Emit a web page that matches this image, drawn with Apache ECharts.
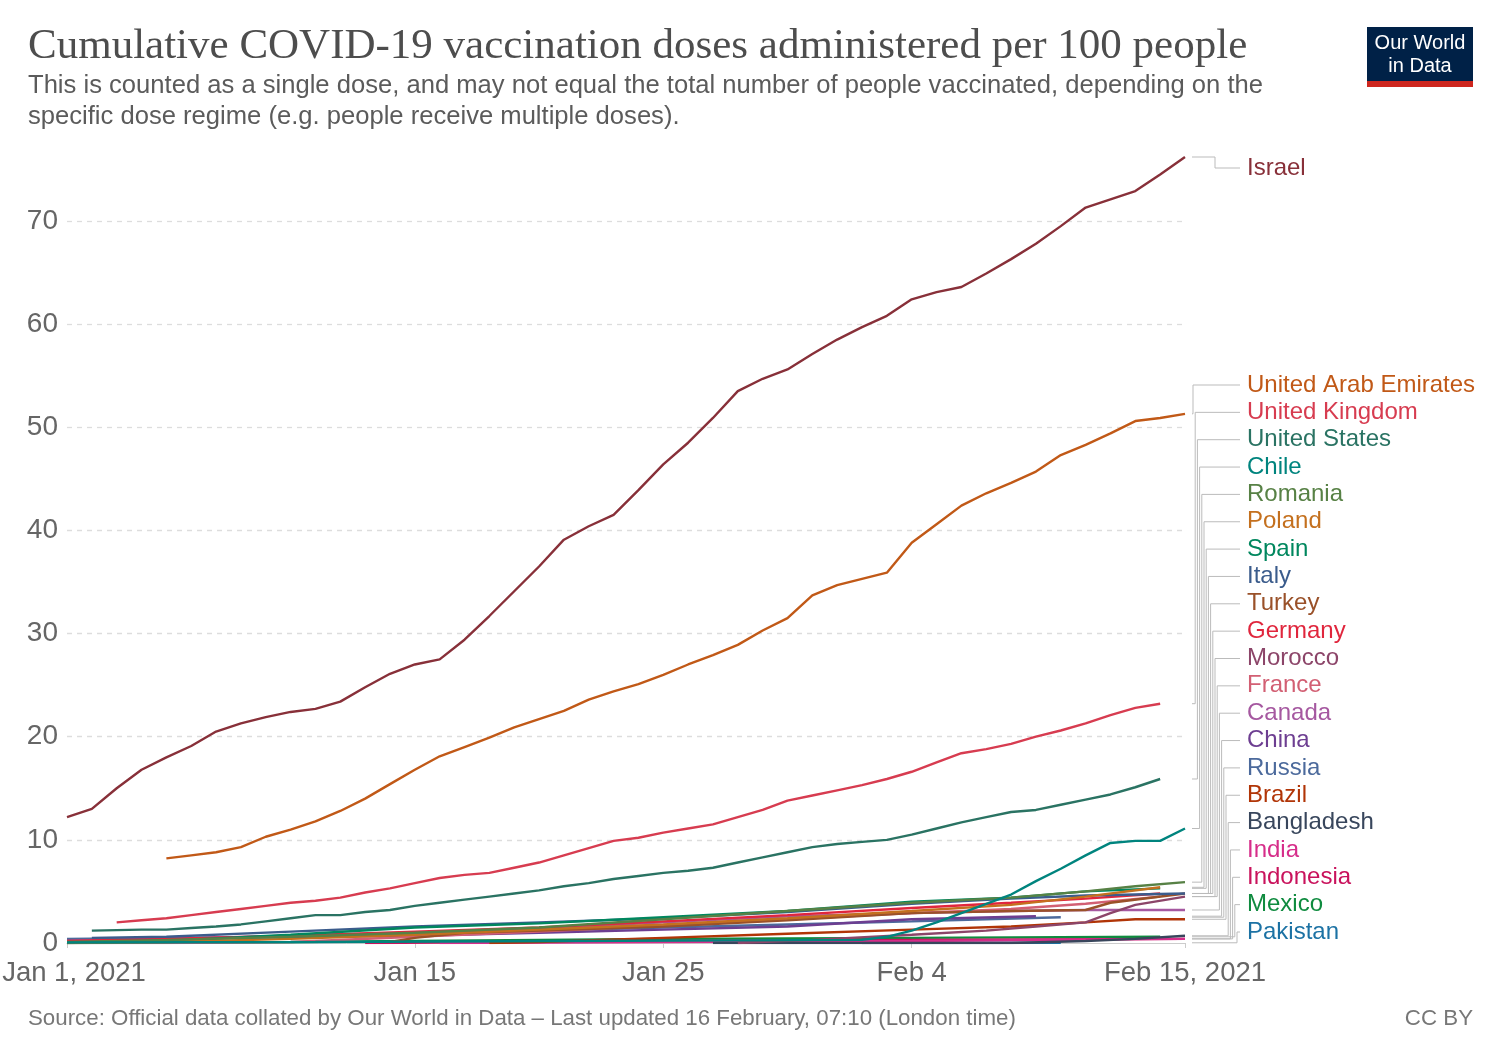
<!DOCTYPE html>
<html>
<head>
<meta charset="utf-8">
<script src="https://cdn.jsdelivr.net/npm/echarts@6/dist/echarts.min.js"></script>
</head>
<body style="margin:0;background:#fff">
<div id="chart" style="width:1500px;height:1059px"></div>
<script>
// days counted from Jan 1, 2021 (0) to Feb 15, 2021 (45)
const xTickDays = [0, 14, 24, 34, 45];
const xTickText = ['Jan 1, 2021', 'Jan 15', 'Jan 25', 'Feb 4', 'Feb 15, 2021'];

// daily values, first entry is the start day
const israelStart = 0;
const israel = [12.2, 13.0, 15.0, 16.8, 18.0, 19.1, 20.5, 21.3, 21.9, 22.4, 22.7, 23.4, 24.8, 26.1, 27.0, 27.5,
  29.4, 31.7, 34.1, 36.5, 39.1, 40.4, 41.5, 43.9, 46.4, 48.5, 50.9, 53.5, 54.7, 55.6, 57.1, 58.5, 59.7, 60.8,
  62.4, 63.1, 63.6, 64.9, 66.3, 67.8, 69.5, 71.3, 72.1, 72.9, 74.5, 76.2];
const uaeStart = 4;
const uae = [8.2, 8.5, 8.8, 9.3, 10.3, 11.0, 11.8, 12.8, 14.0, 15.4, 16.8, 18.1, 19.0, 19.9, 20.9, 21.7, 22.5,
  23.6, 24.4, 25.1, 26.0, 27.0, 27.9, 28.9, 30.3, 31.5, 33.7, 34.7, 35.3, 35.9, 38.8, 40.6, 42.4, 43.6, 44.6,
  45.7, 47.3, 48.3, 49.4, 50.6, 50.9, 51.3];
const ukStart = 2;
const uk = [2.0, 2.2, 2.4, 2.7, 3.0, 3.3, 3.6, 3.9, 4.1, 4.4, 4.9, 5.3, 5.8, 6.3, 6.6, 6.8, 7.3, 7.8, 8.5, 9.2,
  9.9, 10.2, 10.7, 11.1, 11.5, 12.2, 12.9, 13.8, 14.3, 14.8, 15.3, 15.9, 16.6, 17.5, 18.4, 18.8, 19.3, 20.0,
  20.6, 21.3, 22.1, 22.8, 23.2];
const usStart = 1;
const us = [1.2, 1.25, 1.3, 1.3, 1.45, 1.6, 1.8, 2.1, 2.4, 2.7, 2.7, 3.0, 3.2, 3.6, 3.9, 4.2, 4.5, 4.8, 5.1, 5.5,
  5.8, 6.2, 6.5, 6.8, 7.0, 7.3, 7.8, 8.3, 8.8, 9.3, 9.6, 9.8, 10.0, 10.5, 11.1, 11.7, 12.2, 12.7, 12.9, 13.4,
  13.9, 14.4, 15.1, 15.9];

// [day, value] readings for the rest
const chile = [[0, 0.05], [10, 0.1], [20, 0.2], [27, 0.25], [32, 0.3], [33, 0.6], [34, 1.2], [35, 2.0], [36, 2.9],
  [37, 3.8], [38, 4.7], [39, 6.0], [40, 7.2], [41, 8.5], [42, 9.7], [43, 9.9], [44, 9.9], [45, 11.1]];
const romania = [[0, 0.1], [4, 0.3], [9, 0.6], [14, 1.0], [19, 1.5], [24, 2.3], [29, 3.1], [34, 3.9], [38, 4.4],
  [41, 5.0], [43, 5.5], [45, 5.9]];
const poland = [[0, 0.0], [4, 0.1], [9, 0.4], [14, 0.8], [19, 1.3], [24, 1.8], [29, 2.4], [34, 3.1], [38, 3.7],
  [41, 4.5], [44, 5.4]];
const spain = [[0, 0.0], [4, 0.2], [9, 0.8], [14, 1.5], [19, 1.9], [24, 2.5], [29, 3.1], [34, 4.0], [38, 4.4],
  [41, 5.0], [44, 5.3]];
const italy = [[1, 0.5], [4, 0.6], [9, 1.1], [14, 1.6], [19, 2.0], [24, 2.4], [29, 3.0], [34, 3.8], [38, 4.3],
  [41, 4.6], [45, 4.8]];
const turkey = [[13, 0.1], [14, 0.5], [16, 1.0], [19, 1.2], [24, 1.6], [29, 2.2], [34, 2.9], [38, 3.1], [41, 3.2],
  [42, 3.9], [45, 4.8]];
const germany = [[0, 0.2], [4, 0.4], [9, 0.7], [14, 1.1], [19, 1.5], [24, 2.1], [29, 2.7], [34, 3.4], [38, 3.9],
  [41, 4.3], [44, 4.8]];
const morocco = [[27, 0.0], [30, 0.3], [34, 0.8], [37, 1.2], [39, 1.6], [41, 2.0], [42, 2.9], [43, 3.7], [45, 4.5]];
const france = [[0, 0.0], [4, 0.0], [9, 0.1], [14, 0.6], [19, 1.1], [24, 1.7], [29, 2.3], [34, 2.9], [38, 3.3],
  [41, 3.8], [44, 4.5]];
const canada = [[0, 0.2], [4, 0.4], [9, 0.7], [14, 1.0], [19, 1.4], [24, 2.0], [29, 2.6], [34, 2.9], [38, 3.1],
  [41, 3.2], [45, 3.2]];
const china = [[0, 0.2], [9, 0.6], [14, 0.7], [19, 1.0], [24, 1.3], [29, 1.6], [34, 2.3], [39, 2.6]];
const russia = [[0, 0.4], [9, 0.6], [14, 0.8], [19, 1.2], [24, 1.5], [29, 1.8], [34, 2.1], [40, 2.5]];
const brazil = [[17, 0.0], [19, 0.1], [24, 0.5], [29, 0.9], [34, 1.3], [38, 1.6], [41, 2.0], [43, 2.3], [45, 2.3]];
const bangladesh = [[26, 0.0], [38, 0.0], [41, 0.2], [43, 0.4], [45, 0.7]];
const india = [[15, 0.0], [24, 0.1], [34, 0.2], [45, 0.4]];
const indonesia = [[12, 0.0], [24, 0.2], [34, 0.3], [45, 0.4]];
const mexico = [[0, 0.0], [9, 0.1], [14, 0.2], [19, 0.3], [24, 0.4], [34, 0.5], [44, 0.6]];
const pakistan = [[32, 0.0], [40, 0.02]];

const countries = ['Israel', 'United Arab Emirates', 'United Kingdom', 'United States', 'Chile', 'Romania',
  'Poland', 'Spain', 'Italy', 'Turkey', 'Germany', 'Morocco', 'France', 'Canada', 'China', 'Russia', 'Brazil',
  'Bangladesh', 'India', 'Indonesia', 'Mexico', 'Pakistan'];
const colors = ['#883039', '#c15917', '#d73c50', '#2a7363', '#00847e', '#578145', '#c4701e', '#00875e',
  '#3b5c8c', '#9a5129', '#e0263d', '#8c4569', '#d25f73', '#a558a0', '#6d3e91', '#4c6a9c', '#b13507',
  '#38465c', '#d62d8a', '#c9125c', '#0f8b3f', '#1c72a4'];

const daily = (start, arr) => arr.map((v, i) => [start + i, v]);

const seriesData = [
  daily(israelStart, israel), daily(uaeStart, uae), daily(ukStart, uk), daily(usStart, us),
  chile, romania, poland, spain, italy, turkey, germany, morocco, france, canada, china, russia, brazil,
  bangladesh, india, indonesia, mexico, pakistan
];

const chart = echarts.init(document.getElementById('chart'));
const font = '"Liberation Sans", Arial, sans-serif';

const option = {
  animation: false,
  title: [
    {
      text: 'Cumulative COVID-19 vaccination doses administered per 100 people',
      left: 23, top: 20,
      textStyle: { fontFamily: '"Liberation Serif", serif', fontSize: 43, fontWeight: 'normal', color: '#4d4d4d' }
    },
    {
      text: 'This is counted as a single dose, and may not equal the total number of people vaccinated, depending on the\nspecific dose regime (e.g. people receive multiple doses).',
      left: 23, top: 65,
      textStyle: { fontFamily: font, fontSize: 25.6, fontWeight: 'normal', color: '#5b5b5b', lineHeight: 31 }
    },
    {
      text: 'Source: Official data collated by Our World in Data – Last updated 16 February, 07:10 (London time)',
      left: 23, top: 1003,
      textStyle: { fontFamily: font, fontSize: 22.3, fontWeight: 'normal', color: '#777' }
    },
    {
      text: 'CC BY',
      right: 22, top: 1003,
      textStyle: { fontFamily: font, fontSize: 22.3, fontWeight: 'normal', color: '#777' }
    }
  ],
  grid: { left: 67, right: 315, top: 157, bottom: 116, outerBoundsMode: 'none', containLabel: false },
  xAxis: {
    type: 'value',
    min: 0, max: 45,
    axisLine: { show: true, lineStyle: { color: '#ccc' } },
    axisTick: { show: true, length: 5, lineStyle: { color: '#ccc' }, customValues: xTickDays },
    axisLabel: {
      customValues: xTickDays,
      fontFamily: font, fontSize: 27.5, color: '#666', margin: 16,
      formatter: v => v === 0 ? '{first|' + xTickText[0] + '}' : xTickText[xTickDays.indexOf(v)],
      rich: { first: { fontFamily: font, fontSize: 27.5, color: '#666', padding: [0, 0, 0, 14] } }
    },
    splitLine: { show: false }
  },
  yAxis: {
    type: 'value',
    min: 0, max: 76.2, interval: 10,
    axisLine: { show: false },
    axisTick: { show: false },
    axisLabel: { fontFamily: font, fontSize: 28, color: '#666', margin: 9, showMaxLabel: false },
    splitLine: { show: true, showMinLine: false, showMaxLine: false, lineStyle: { color: '#ddd', type: [5, 5], width: 1.3 } }
  },
  series: countries.map((name, i) => ({
    name: name,
    type: 'line',
    data: seriesData[i],
    showSymbol: false,
    symbol: 'none',
    z: 30 - i,
    lineStyle: { width: 2.4, color: colors[i] },
    itemStyle: { color: colors[i] }
  })).reverse()
};

chart.setOption(option);

// end labels with connectors, stacked from the bottom
const plotRight = chart.convertToPixel({ xAxisIndex: 0 }, 45);
const bottomY = chart.convertToPixel({ yAxisIndex: 0 }, 0) - 11;
const gap = 27.35;
const ends = countries.map((name, i) => {
  const last = seriesData[i][seriesData[i].length - 1];
  return { name: name, color: colors[i], y: chart.convertToPixel({ xAxisIndex: 0, yAxisIndex: 0 }, last)[1] };
});
const labelY = new Array(ends.length);
for (let k = ends.length - 1; k >= 0; k--) {
  const limit = k === ends.length - 1 ? bottomY : labelY[k + 1] - gap;
  labelY[k] = Math.min(ends[k].y, limit);
}
labelY[0] = ends[0].y + 11;

const graphics = [];
ends.forEach((e, k) => {
  const bend = k === 0 ? 1215 : 1193 + (k - 1) * 2.2;
  graphics.push({
    type: 'polyline',
    shape: { points: [[plotRight + 7, e.y], [bend, e.y], [bend, labelY[k]], [1240, labelY[k]]] },
    style: { stroke: '#bbb', lineWidth: 1, fill: null },
    silent: true
  });
  graphics.push({
    type: 'text',
    x: 1247, y: labelY[k],
    style: { text: e.name, fill: e.color, font: '24px ' + font, verticalAlign: 'middle', align: 'left' },
    silent: true
  });
});

// logo
graphics.push(
  { type: 'rect', shape: { x: 1367, y: 27, width: 106, height: 55 }, style: { fill: '#002147' } },
  { type: 'rect', shape: { x: 1367, y: 81, width: 106, height: 6 }, style: { fill: '#ce261e' } },
  { type: 'text', x: 1420, y: 43, style: { text: 'Our World', fill: '#fff', font: '20px ' + font, align: 'center', verticalAlign: 'middle' } },
  { type: 'text', x: 1420, y: 66, style: { text: 'in Data', fill: '#fff', font: '20px ' + font, align: 'center', verticalAlign: 'middle' } }
);

chart.setOption({ graphic: graphics });
</script>
</body>
</html>
